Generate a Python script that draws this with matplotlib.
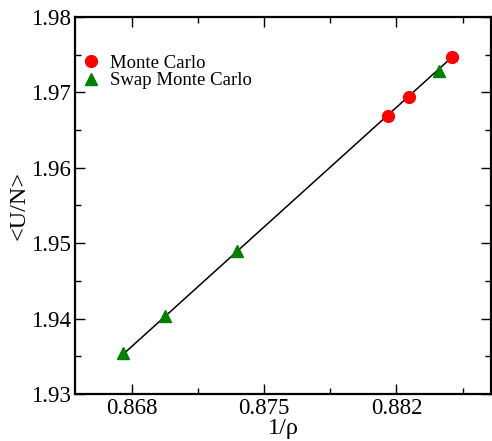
import matplotlib
matplotlib.use("Agg")
import matplotlib.pyplot as plt
from matplotlib.ticker import MultipleLocator

plt.rcParams['font.family'] = ['Liberation Serif', 'DejaVu Serif']

# Plain Monte Carlo runs
mc_x = [0.88154, 0.88268, 0.88495]
mc_y = [1.96691, 1.96939, 1.97466]

# Swap Monte Carlo runs
swap_x = [0.86756, 0.86974, 0.87356, 0.88423]
swap_y = [1.93540, 1.94034, 1.94901, 1.97288]

# Linear fit through all points
fit_x = [0.86756, 0.88495]
fit_y = [1.93530, 1.97470]

fig = plt.figure(figsize=(4.92, 4.41), dpi=100)
ax = fig.add_axes([0.1524, 0.1066, 0.8456, 0.8549])

ax.plot(fit_x, fit_y, '-', color='black', linewidth=1.1, zorder=2)
ax.plot(mc_x, mc_y, 'o', color='#ff0000', markersize=8.5, linestyle='none',
        label='Monte Carlo', zorder=3)
ax.plot(swap_x, swap_y, '^', color='#008000', markersize=8.5, linestyle='none',
        label='Swap Monte Carlo', zorder=3)

ax.set_xlim(0.865, 0.887)
ax.set_ylim(1.93, 1.98)
ax.xaxis.set_minor_locator(MultipleLocator(0.0035))
ax.yaxis.set_major_locator(MultipleLocator(0.01))
ax.yaxis.set_minor_locator(MultipleLocator(0.005))
ax.set_xticks([0.868, 0.875, 0.882])
ax.set_xticklabels(['0.868', '0.875', '0.882'])
ax.set_yticks([1.93, 1.94, 1.95, 1.96, 1.97, 1.98])
ax.set_yticklabels(['1.93', '1.94', '1.95', '1.96', '1.97', '1.98'])

ax.tick_params(which='both', direction='in', top=True, right=True,
               labelsize=16.5, width=1.0, pad=3)
ax.tick_params(which='major', length=7)
ax.tick_params(which='minor', length=4)
for s in ax.spines.values():
    s.set_linewidth(1.6)

ax.set_xlabel('1/ρ', fontsize=17.5, labelpad=-1)
ax.set_ylabel('<U/N>', fontsize=17.5, labelpad=1)

ax.legend(loc='upper left', bbox_to_anchor=(-0.016, 0.935), frameon=False,
          fontsize=13.5, handlelength=1.0, handletextpad=0.5,
          labelspacing=0.02, borderaxespad=0.3)

fig.savefig('out.png', dpi=100)
